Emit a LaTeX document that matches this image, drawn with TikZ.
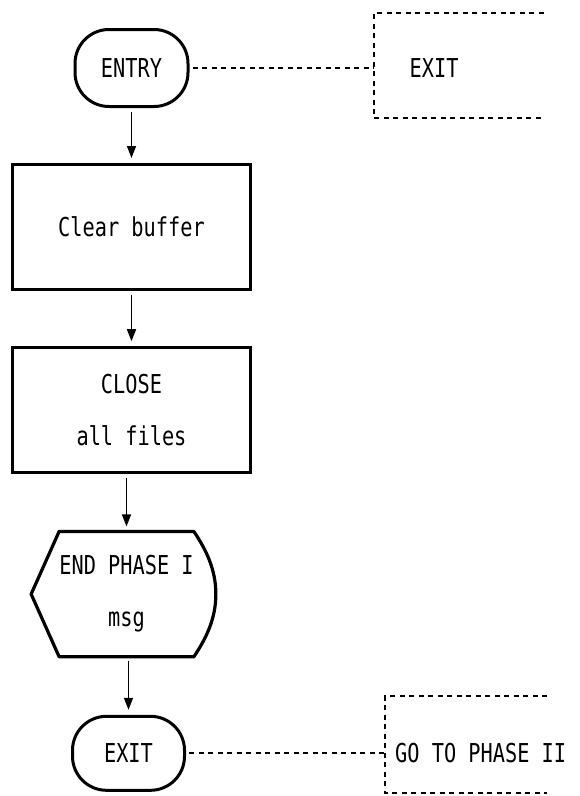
\documentclass[tikz,border=0pt]{standalone}
\usepackage{fontspec}
\newfontfamily\dotfont[FakeStretch=0.78]{DejaVu Sans Mono}
\usepackage{tikz}
\usetikzlibrary{arrows.meta,positioning}

\begin{document}
\begin{tikzpicture}[
    node distance=55pt,
    every node/.style={font=\dotfont\fontsize{26}{52}\selectfont},
    terminal/.style={
        draw,
        rounded corners=34pt,
        line width=3pt,
        minimum width=113pt,
        minimum height=77pt,
        inner sep=0pt
    },
    procbox/.style={
        draw,
        line width=3.2pt,
        align=center,
        minimum width=238pt,
        minimum height=125pt
    },
    display/.style={align=center, inner sep=0pt, minimum width=127pt, minimum height=125pt},
    note/.style={anchor=west, inner sep=0pt},
    flow/.style={-{Triangle[width=9pt,length=12pt]}, line width=1.5pt, shorten <=4pt, shorten >=5pt},
    link/.style={dash pattern=on 5pt off 4.5pt, line width=2pt}
]
\useasboundingbox (0,0) rectangle (580pt,-796pt);

\node[terminal] (entry) at (131.5pt,-68pt) {ENTRY};
\node[procbox, below=of entry] (clear) {Clear buffer};
\node[procbox, below=of clear] (close) {CLOSE\\all files};
\node[display, below=57pt of close, xshift=-5pt] (endmsg) {END PHASE I\\msg};
\node[terminal, below=58pt of endmsg, xshift=2pt, minimum width=112pt, minimum height=74pt] (exit) {EXIT};

% display symbol round the message
\draw[line width=3.2pt, line join=round] ([xshift=-28pt]endmsg.west) -- (endmsg.north west)
    -- (endmsg.north east) .. controls +(12pt,-18pt) and +(0,25pt) .. ([xshift=22pt]endmsg.east)
    .. controls +(0,-25pt) and +(12pt,18pt) .. (endmsg.south east) -- (endmsg.south west) -- cycle;

\draw[flow] (entry) -- (clear);
\draw[flow] (clear) -- (close);
\draw[flow] (close.south -| endmsg.north) -- (endmsg.north);
\draw[flow] (endmsg.south -| exit.north) -- (exit.north);

% annotations
\coordinate[right=184pt of entry.east] (exitbr);
\node[note, right=36pt of exitbr] (exitnote) {EXIT};
\draw[link, shorten <=3pt] (entry) -- (exitbr);
\draw[link] ([shift={(170pt,55pt)}]exitbr) -- ([yshift=55pt]exitbr)
    -- ([yshift=-50pt]exitbr) -- ([shift={(170pt,-50pt)}]exitbr);

\coordinate[right=199pt of exit.east] (gobr);
\node[note, right=10pt of gobr] (gonote) {GO TO PHASE II};
\draw[link, shorten <=3pt] (exit) -- (gobr);
\draw[link] ([shift={(162pt,57pt)}]gobr) -- ([yshift=57pt]gobr)
    -- ([yshift=-40pt]gobr) -- ([shift={(162pt,-40pt)}]gobr);
\end{tikzpicture}
\end{document}
